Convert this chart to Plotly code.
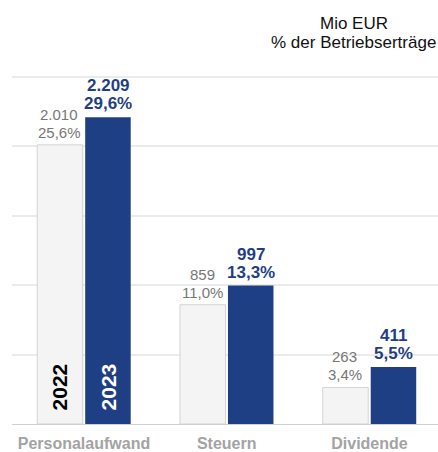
import plotly.graph_objects as go

categories = ["Personalaufwand", "Steuern", "Dividende"]
years = ["2022", "2023"]
values_2022 = [2010, 859, 263]
values_2023 = [2209, 997, 411]
pct_2022 = ["25,6%", "11,0%", "3,4%"]
pct_2023 = ["29,6%", "13,3%", "5,5%"]
y_ticks = [0, 500, 1000, 1500, 2000, 2500]

BLUE = "#1f3f84"
GREY_FILL = "#f4f4f4"
FONT = "Arial"

def fmt(v):
    return f"{v:,}".replace(",", ".")

fig = go.Figure()
fig.add_trace(go.Bar(
    x=categories, y=values_2022, name=years[0],
    marker=dict(color=GREY_FILL, line=dict(color="#d4d4d4", width=1)),
))
fig.add_trace(go.Bar(
    x=categories, y=values_2023, name=years[1],
    marker=dict(color=BLUE, line=dict(color=BLUE, width=0)),
))

OFF = 24.5  # half distance between bar centres in px
for cat, v, p in zip(categories, values_2022, pct_2022):
    fig.add_annotation(x=cat, y=v, text=fmt(v), showarrow=False, xshift=-OFF, yshift=30.5,
                       yanchor="middle", font=dict(family=FONT, size=15, color="#777777"))
    fig.add_annotation(x=cat, y=v, text=p, showarrow=False, xshift=-OFF, yshift=12.5,
                       yanchor="middle", font=dict(family=FONT, size=15, color="#777777"))
for cat, v, p in zip(categories, values_2023, pct_2023):
    fig.add_annotation(x=cat, y=v, text=f"<b>{fmt(v)}</b>", showarrow=False, xshift=OFF, yshift=31.5,
                       yanchor="middle", font=dict(family=FONT, size=17, color=BLUE))
    fig.add_annotation(x=cat, y=v, text=f"<b>{p}</b>", showarrow=False, xshift=OFF, yshift=13.5,
                       yanchor="middle", font=dict(family=FONT, size=17, color=BLUE))

fig.add_annotation(x=categories[0], y=0, text=f"<b>{years[0]}</b>",
                   textangle=-90, showarrow=False, xshift=-OFF, yshift=37,
                   yanchor="middle", font=dict(family=FONT, size=21, color="#000000"))
fig.add_annotation(x=categories[0], y=0, text=f"<b>{years[1]}</b>",
                   textangle=-90, showarrow=False, xshift=OFF, yshift=37,
                   yanchor="middle", font=dict(family=FONT, size=21, color="#ffffff"))

PLOT_W, PLOT_H, L, T = 426, 350, 12, 74
fig.add_annotation(xref="paper", yref="paper", x=(353.5 - L) / PLOT_W, y=1 + (T - 23.5) / PLOT_H,
                   text="Mio EUR", showarrow=False, xanchor="center", yanchor="middle",
                   font=dict(family=FONT, size=17, color="#111111"))
fig.add_annotation(xref="paper", yref="paper", x=(353.5 - L) / PLOT_W, y=1 + (T - 42.5) / PLOT_H,
                   text="% der Betriebserträge", showarrow=False, xanchor="center", yanchor="middle",
                   font=dict(family=FONT, size=17, color="#111111"))

fig.update_layout(
    width=438, height=452,
    margin=dict(l=L, r=0, t=T, b=452 - T - PLOT_H, autoexpand=False),
    plot_bgcolor="white", paper_bgcolor="white",
    showlegend=False,
    barmode="group", bargap=0.3275, bargroupgap=0.052,
    font=dict(family=FONT),
    xaxis=dict(range=[-0.504, 2.48], showgrid=False, ticks="", showline=True,
               linecolor="#d0d0d0", linewidth=1,
               tickfont=dict(family=FONT, size=16, color="#a3a3a3", weight="bold"),
               ticklabelstandoff=5, automargin=False),
    yaxis=dict(range=[0, 2520], tickvals=y_ticks, showticklabels=False,
               showgrid=True, gridcolor="#ebebeb", gridwidth=1.5, zeroline=False, automargin=False),
)

fig.write_html("out.html", config={"displayModeBar": False},
               post_script="document.body.style.margin='0';document.body.style.padding='0';")
